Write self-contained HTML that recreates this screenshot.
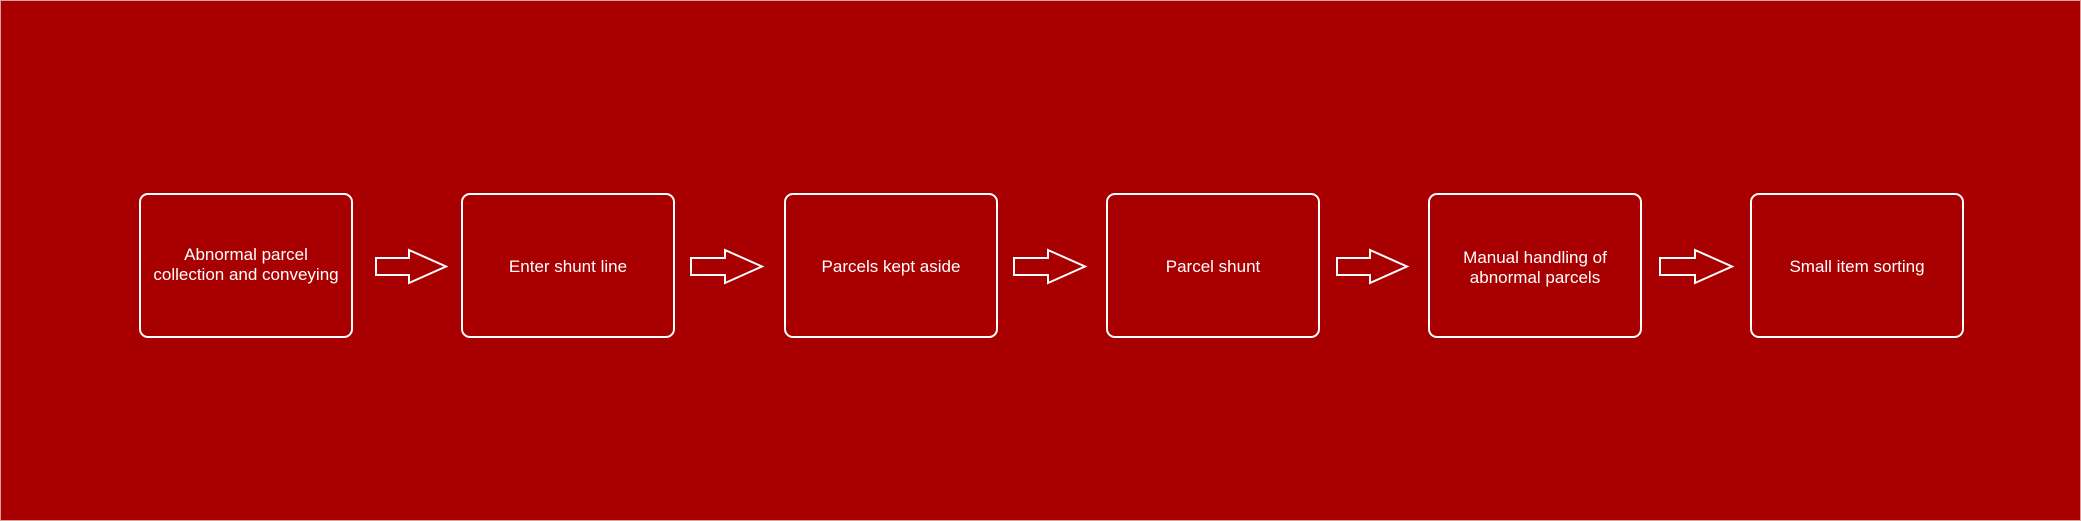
<!DOCTYPE html>
<html><head><meta charset="utf-8"><style>
html,body{margin:0;padding:0;}
body{width:2081px;height:521px;overflow:hidden;background:#a80000;}
</style></head><body>
<svg width="2081" height="521" xmlns="http://www.w3.org/2000/svg" style="display:block">
<rect x="0.5" y="0.5" width="2080" height="520" fill="#a80000" stroke="#d9a0a0" stroke-width="1"/>
<g fill="none" stroke="#fff" stroke-width="2">
<rect x="140" y="194" width="212" height="143" rx="8"/>
<rect x="462" y="194" width="212" height="143" rx="8"/>
<rect x="785" y="194" width="212" height="143" rx="8"/>
<rect x="1107" y="194" width="212" height="143" rx="8"/>
<rect x="1429" y="194" width="212" height="143" rx="8"/>
<rect x="1751" y="194" width="212" height="143" rx="8"/>
</g>
<g fill="none" stroke="#fff" stroke-width="2" stroke-linejoin="miter">
<path d="M376 258 H409 V250 L446 266.5 L409 283 V275 H376 Z"/>
<path d="M691 258 H725 V250 L762 266.5 L725 283 V275 H691 Z"/>
<path d="M1014 258 H1048 V250 L1085 266.5 L1048 283 V275 H1014 Z"/>
<path d="M1337 258 H1370 V250 L1407 266.5 L1370 283 V275 H1337 Z"/>
<path d="M1660 258 H1695 V250 L1732 266.5 L1695 283 V275 H1660 Z"/>
</g>
<g fill="#fff" font-family="Liberation Sans, sans-serif" font-size="17" text-anchor="middle">
<text x="246" y="260">Abnormal parcel</text>
<text x="246" y="280">collection and conveying</text>
<text x="568" y="272">Enter shunt line</text>
<text x="891" y="272">Parcels kept aside</text>
<text x="1213" y="272">Parcel shunt</text>
<text x="1535" y="263">Manual handling of</text>
<text x="1535" y="283">abnormal parcels</text>
<text x="1857" y="272">Small item sorting</text>
</g>
</svg>
</body></html>
